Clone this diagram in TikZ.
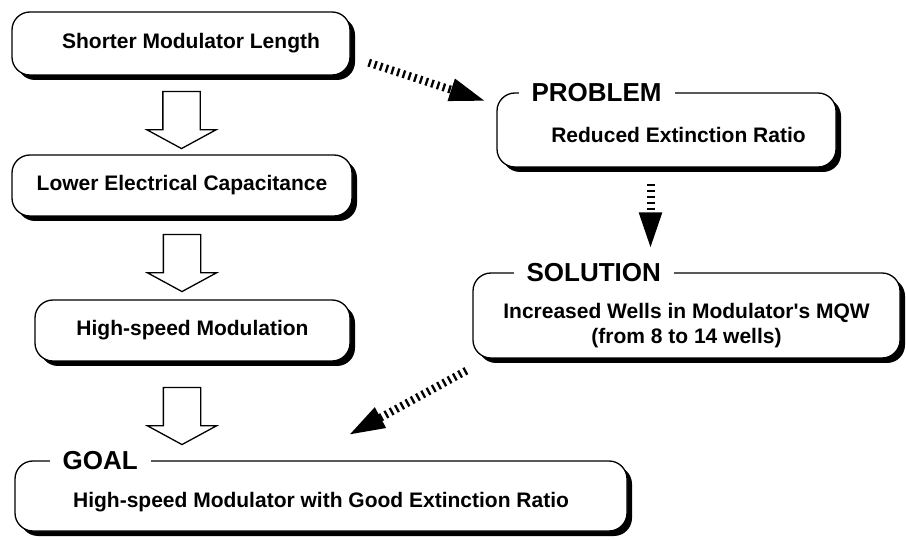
\documentclass[tikz,border=0pt]{standalone}
\usepackage{fontspec}
\setmainfont{Liberation Sans}
\usetikzlibrary{positioning,calc,shapes.arrows,shadows,arrows.meta}
% move box text without changing the box
\newcommand{\nudged}[3]{\raisebox{-#2}[\height][\depth]{\hspace*{#1}#3\hspace*{-#1}}}
\tikzset{
    shadow-box/.style = {draw, line width=1.3pt, fill=white, rectangle, rounded corners=18pt, inner sep=0pt, align=center,
        drop shadow={shadow xshift=5pt, shadow yshift=-5pt, fill=black, opacity=1},
        font=\fontsize{21}{25}\selectfont\bfseries},
    shadow-box-title/.style = {fill=white, inner xsep=13pt, inner ysep=2pt, font=\fontsize{26}{30}\selectfont\bfseries},
    hollow-arrow/.style = {draw, line width=1.3pt, fill=white, shape=single arrow, shape border rotate=270, inner sep=18pt,
        minimum width=0pt, minimum height=57pt, single arrow head extend=16pt, single arrow tip angle=123},
    stripe-arrow/.style = {line width=8pt, dash pattern=on 2.3pt off 3.7pt, -{Triangle[length=37pt, width=21pt]}},
}
\begin{document}
\begin{tikzpicture}[x=1pt, y=-1pt]
\useasboundingbox (0,0) rectangle (906,540);

% left column
\node[shadow-box, minimum width=338pt, minimum height=63pt] (short) at (181,43.5) {\nudged{10pt}{0pt}{Shorter Modulator Length}};
\node[shadow-box, minimum width=340pt, minimum height=61pt] (lowcap) at (182,185.5) {Lower Electrical Capacitance};
\node[shadow-box, minimum width=315pt, minimum height=61pt] (speed) at (192.5,330.5) {High-speed Modulation};

% right column
\node[shadow-box, minimum width=339pt, minimum height=74pt] (problem) at (666.5,130) {\nudged{12pt}{5pt}{Reduced Extinction Ratio}};
\node[shadow-box-title, right=22pt] at (problem.north west) {PROBLEM};
\node[shadow-box, minimum width=427pt, minimum height=85pt] (solution) at (686.5,315.5)
    {\nudged{0pt}{11pt}{\begin{tabular}{@{}c@{}}Increased Wells in Modulator\textquotesingle s MQW\\(from 8 to 14 wells)\end{tabular}}};
\node[shadow-box-title, right=41pt] at (solution.north west) {SOLUTION};

% goal
\node[shadow-box, minimum width=612pt, minimum height=70pt] (goal) at (321,496) {\nudged{0pt}{6pt}{High-speed Modulator with Good Extinction Ratio}};
\node[shadow-box-title, right=35pt] at (goal.north west) {GOAL};

% hollow arrows
\node[hollow-arrow] (down1) at ($(short.south)!0.5!(lowcap.north)$) {};
\node[hollow-arrow] (down2) at ($(lowcap.south)!0.5!(lowcap.south |- speed.north)$) {};
\node[hollow-arrow] (down3) at ($(lowcap.south |- speed.south)!0.5!(lowcap.south |- goal.north)$) {};

% striped arrows
\draw[stripe-arrow] ([shift={(18,-13)}]short.south east) -- ([shift={(-10,9)}]problem.north west);
\draw[stripe-arrow] ($(problem.south)+(-16,16)$) -- ($(problem.south |- solution.north)+(-16,-23)$);
\draw[stripe-arrow] ([shift={(-6,12)}]solution.south west) -- ($(goal.north)+(27,-25)$);
\end{tikzpicture}
\end{document}
